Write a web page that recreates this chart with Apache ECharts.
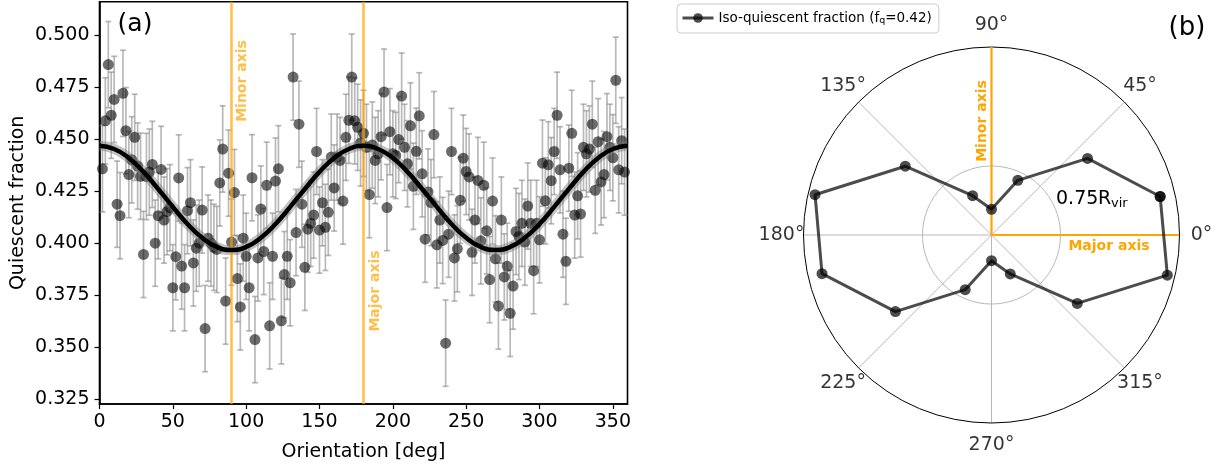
<!DOCTYPE html>
<html>
<head>
<meta charset="utf-8">
<script src="https://cdn.jsdelivr.net/npm/echarts@6/dist/echarts.min.js"></script>
<style>
  html, body { margin: 0; padding: 0; background: #fff; }
  #chart { width: 1216px; height: 467px; }
</style>
</head>
<body>
<div id="chart"></div>
<script>
// (a) quiescent fraction per 2 deg orientation bin
var orientDeg = [
  2, 4, 6, 8, 10, 12, 14, 16, 18, 20, 22, 24, 26, 28, 30, 32, 34, 36, 38, 40,
  42, 44, 46, 48, 50, 52, 54, 56, 58, 60, 62, 64, 66, 68, 70, 72, 74, 76, 78, 80,
  82, 84, 86, 88, 90, 92, 94, 96, 98, 100, 102, 104, 106, 108, 110, 112, 114, 116, 118, 120,
  122, 124, 126, 128, 130, 132, 134, 136, 138, 140, 142, 144, 146, 148, 150, 152, 154, 156, 158, 160,
  162, 164, 166, 168, 170, 172, 174, 176, 178, 180, 182, 184, 186, 188, 190, 192, 194, 196, 198, 200,
  202, 204, 206, 208, 210, 212, 214, 216, 218, 220, 222, 224, 226, 228, 230, 232, 234, 236, 238, 240,
  242, 244, 246, 248, 250, 252, 254, 256, 258, 260, 262, 264, 266, 268, 270, 272, 274, 276, 278, 280,
  282, 284, 286, 288, 290, 292, 294, 296, 298, 300, 302, 304, 306, 308, 310, 312, 314, 316, 318, 320,
  322, 324, 326, 328, 330, 332, 334, 336, 338, 340, 342, 344, 346, 348, 350, 352, 354, 356, 358
];
var quiescentFrac = [
  0.4357, 0.4587, 0.4857, 0.4614, 0.4690, 0.4187, 0.4132, 0.4719, 0.4540, 0.4329,
  0.4400, 0.4508, 0.4370, 0.4321, 0.3946, 0.4320, 0.4341, 0.4378, 0.4000, 0.4132,
  0.4354, 0.4111, 0.4151, 0.4170, 0.3786, 0.3935, 0.4313, 0.3890, 0.3786, 0.4156,
  0.4194, 0.3905, 0.3976, 0.4000, 0.4159, 0.3590, 0.4024, 0.4000, 0.3980, 0.3970,
  0.4289, 0.4452, 0.3722, 0.4336, 0.4005, 0.4243, 0.3830, 0.3694, 0.4024, 0.3937,
  0.3786, 0.4314, 0.3537, 0.3929, 0.4164, 0.3960, 0.4278, 0.3603, 0.3937, 0.4298,
  0.4357, 0.3627, 0.3849, 0.3937, 0.3810, 0.4797, 0.4051, 0.4571, 0.4187, 0.3884,
  0.4067, 0.4095, 0.4135, 0.4440, 0.4063, 0.4194, 0.4076, 0.4148, 0.4413, 0.4265,
  0.4413, 0.4397, 0.4202, 0.4508, 0.4590, 0.4797, 0.4587, 0.4556, 0.4481, 0.4527,
  0.4460, 0.4233, 0.4471, 0.4397, 0.4429, 0.4511, 0.4725, 0.4171, 0.4535, 0.4429,
  0.4421, 0.4497, 0.4706, 0.4460, 0.4381, 0.4563, 0.4273, 0.4441, 0.4611, 0.4333,
  0.4019, 0.4246, 0.4195, 0.4521, 0.3992, 0.4111, 0.4013, 0.3520, 0.4043, 0.4440,
  0.3929, 0.3973, 0.4206, 0.4408, 0.4344, 0.4318, 0.3956, 0.4111, 0.4301, 0.4011,
  0.4278, 0.4059, 0.3825, 0.4202, 0.3925, 0.3698, 0.4111, 0.3838, 0.3889, 0.3663,
  0.3794, 0.4056, 0.4032, 0.4095, 0.4005, 0.4178, 0.4095, 0.3868, 0.4095, 0.4016,
  0.4384, 0.4203, 0.4376, 0.4300, 0.4440, 0.4614, 0.4352, 0.4043, 0.3913, 0.4360,
  0.4527, 0.4135, 0.4227, 0.4140, 0.4460, 0.4429, 0.4452, 0.4571, 0.4254, 0.4487,
  0.4294, 0.4329, 0.4511, 0.4460, 0.4410, 0.4782, 0.4352, 0.4492, 0.4341
];
var fracErr = 0.0207;   // half length of the error bars

// fitted curve, read every 10 deg
var fitDeg = [0, 10, 20, 30, 40, 50, 60, 70, 80, 90, 100, 110, 120, 130, 140, 150, 160, 170, 180,
  190, 200, 210, 220, 230, 240, 250, 260, 270, 280, 290, 300, 310, 320, 330, 340, 350, 360];
var fitFrac = [0.4467, 0.4452, 0.4409, 0.4342, 0.4260, 0.4174, 0.4092, 0.4026, 0.3982, 0.3967,
  0.3982, 0.4026, 0.4092, 0.4174, 0.4260, 0.4342, 0.4409, 0.4452, 0.4467,
  0.4452, 0.4409, 0.4342, 0.4260, 0.4174, 0.4092, 0.4026, 0.3982, 0.3967,
  0.3982, 0.4026, 0.4092, 0.4174, 0.4260, 0.4342, 0.4409, 0.4452, 0.4467];

var xTicks = [0, 50, 100, 150, 200, 250, 300, 350];
var yTicks = [0.325, 0.350, 0.375, 0.400, 0.425, 0.450, 0.475, 0.500];
var axisMarks = [90, 180];   // minor, major axis

// (b) iso-quiescent contour, radius in R_vir
var polarAngle = [12.86, 38.57, 64.29, 90, 115.71, 141.43, 167.14, 192.86, 218.57, 244.29, 270, 295.71, 321.43, 347.14];
var polarRadius = [1.880, 1.335, 0.659, 0.279, 0.474, 1.199, 1.967, 1.889, 1.335, 0.659, 0.279, 0.470, 1.192, 1.960];
var angleTicks = [0, 45, 90, 135, 180, 225, 270, 315];
var radiusMax = 2.043;
var refRadius = 0.75;
var angleLabelRadius = 2.282;   // matplotlib puts the labels centred just outside the rim

var font = 'DejaVu Sans';
var orange = '#ffa500';
var orangeSoft = 'rgba(255,165,0,0.72)';

var chart = echarts.init(document.getElementById('chart'));

var pts = orientDeg.map(function (d, i) { return [d, quiescentFrac[i]]; });
var fitPts = fitDeg.map(function (d, i) { return [d, fitFrac[i]]; });
var loop = polarAngle.map(function (a, i) { return [polarRadius[i], a]; });
loop.push([polarRadius[0], polarAngle[0]]);

var option = {
  animation: false,
  textStyle: { fontFamily: font },
  grid: { left: 99.5, right: 588.5, top: 1.7, bottom: 59.7, show: true, borderColor: '#000', borderWidth: 1.6, backgroundColor: 'transparent' },
  xAxis: {
    type: 'value', min: 0, max: 360,
    name: 'Orientation [deg]', nameLocation: 'middle', nameGap: 39,
    nameTextStyle: { fontSize: 19, color: '#000', fontFamily: font },
    axisLine: { show: true, lineStyle: { color: '#000', width: 1.6 } },
    axisTick: { show: true, length: 5, customValues: xTicks, lineStyle: { color: '#000', width: 1.2 } },
    axisLabel: { customValues: xTicks, fontSize: 19, color: '#000', margin: 9, fontFamily: font },
    splitLine: { show: false }
  },
  yAxis: {
    type: 'value', min: 0.3228, max: 0.5159,
    name: 'Quiescent fraction', nameLocation: 'middle', nameGap: 72,
    nameTextStyle: { fontSize: 19, color: '#000', fontFamily: font },
    axisLine: { show: true, lineStyle: { color: '#000', width: 1.6 } },
    axisTick: { show: true, length: 5, customValues: yTicks, lineStyle: { color: '#000', width: 1.2 } },
    axisLabel: { customValues: yTicks, fontSize: 19, color: '#000', margin: 10, fontFamily: font,
      formatter: function (v) { return v.toFixed(3); } },
    splitLine: { show: false }
  },
  polar: { center: [991.5, 235], radius: 188 },
  angleAxis: {
    type: 'value', min: 0, max: 360, interval: 45, startAngle: 0, clockwise: false,
    axisLine: { show: true, lineStyle: { color: '#000', width: 1 } },
    axisTick: { show: false },
    axisLabel: { show: false },
    splitLine: { show: true, lineStyle: { color: '#b8b8b8', width: 1 } }
  },
  radiusAxis: {
    type: 'value', min: 0, max: radiusMax, interval: refRadius,
    axisLine: { show: false }, axisTick: { show: false }, axisLabel: { show: false },
    splitLine: { show: true, lineStyle: { color: ['transparent', '#b8b8b8', 'transparent', 'transparent'], width: 1 } }
  },
  legend: {
    left: 677, top: 4, padding: [7, 7, 7, 4], itemWidth: 31, itemHeight: 12, itemGap: 5,
    borderColor: '#cccccc', borderWidth: 1, borderRadius: 4,
    data: ['iso'],
    lineStyle: { width: 3 },
    formatter: function () { return 'Iso-quiescent fraction (f{q|q}=0.42)'; },
    textStyle: { fontSize: 13.5, color: '#000', fontFamily: font,
      rich: { q: { fontSize: 9.5, padding: [6, 0, 0, 0], fontFamily: font, color: '#000' } } }
  },
  series: [
    {
      name: 'err', type: 'custom', z: 1,
      data: pts,
      encode: { x: 0, y: 1 },
      renderItem: function (params, api) {
        var x = api.value(0), y = api.value(1);
        var top = api.coord([x, y + fracErr]);
        var bot = api.coord([x, y - fracErr]);
        var st = { stroke: 'rgba(128,128,128,0.55)', lineWidth: 1.7 };
        return {
          type: 'group',
          children: [
            { type: 'line', shape: { x1: top[0], y1: top[1], x2: bot[0], y2: bot[1] }, style: st },
            { type: 'line', shape: { x1: top[0] - 3, y1: top[1], x2: top[0] + 3, y2: top[1] }, style: st },
            { type: 'line', shape: { x1: bot[0] - 3, y1: bot[1], x2: bot[0] + 3, y2: bot[1] }, style: st }
          ]
        };
      }
    },
    {
      name: 'frac', type: 'scatter', z: 2,
      data: pts, symbolSize: 11,
      itemStyle: { color: 'rgba(0,0,0,0.72)' }
    },
    {
      name: 'band', type: 'line', z: 4,
      data: fitPts, smooth: true, symbol: 'none',
      lineStyle: { color: 'rgba(120,120,120,0.45)', width: 10 },
      markLine: {
        silent: true, symbol: 'none', label: { show: false },
        lineStyle: { color: orangeSoft, width: 2.5, type: 'solid' },
        data: axisMarks.map(function (v) { return { xAxis: v }; })
      }
    },
    {
      name: 'fit', type: 'line', z: 5,
      data: fitPts, smooth: true, symbol: 'none',
      lineStyle: { color: '#000', width: 4.5 }
    },
    {
      name: 'major', type: 'line', coordinateSystem: 'polar', z: 3,
      data: [[0, 0], [radiusMax, 0]], symbol: 'none',
      lineStyle: { color: orange, width: 2.2 }
    },
    {
      name: 'minor', type: 'line', coordinateSystem: 'polar', z: 3,
      data: [[0, 90], [radiusMax, 90]], symbol: 'none',
      lineStyle: { color: orange, width: 2.2 }
    },
    {
      name: 'iso', type: 'line', coordinateSystem: 'polar', z: 4,
      data: loop, symbol: 'circle', symbolSize: 11,
      lineStyle: { color: 'rgba(0,0,0,0.7)', width: 3 },
      itemStyle: { color: 'rgba(0,0,0,0.7)' }
    },
    {
      name: 'angleLabels', type: 'scatter', coordinateSystem: 'polar', z: 6,
      clip: false, silent: true, symbolSize: 0,
      itemStyle: { color: '#000' },
      data: angleTicks.map(function (a) { return [angleLabelRadius, a]; }),
      label: {
        show: true, position: 'inside', fontSize: 19, color: '#000', fontFamily: font,
        textBorderWidth: 0, textBorderColor: 'transparent',
        formatter: function (p) { return p.value[1] + '°'; }
      }
    }
  ],
  graphic: [
    { type: 'text', x: 135, y: 24, z: 10,
      style: { text: '(a)', font: '25px ' + font, fill: '#000', align: 'center', verticalAlign: 'middle' } },
    { type: 'text', x: 1187, y: 28, z: 10,
      style: { text: '(b)', font: '26px ' + font, fill: '#000', align: 'center', verticalAlign: 'middle' } },
    { type: 'text', x: 242, y: 81, rotation: Math.PI / 2, z: 10,
      style: { text: 'Minor axis', font: 'bold 14px ' + font, fill: orangeSoft, align: 'center', verticalAlign: 'middle' } },
    { type: 'text', x: 375, y: 291, rotation: Math.PI / 2, z: 10,
      style: { text: 'Major axis', font: 'bold 14px ' + font, fill: orangeSoft, align: 'center', verticalAlign: 'middle' } },
    { type: 'text', x: 982, y: 121, rotation: Math.PI / 2, z: 10,
      style: { text: 'Minor axis', font: 'bold 14px ' + font, fill: orange, align: 'center', verticalAlign: 'middle' } },
    { type: 'text', x: 1109, y: 246, z: 10,
      style: { text: 'Major axis', font: 'bold 14px ' + font, fill: orange, align: 'center', verticalAlign: 'middle' } },
    { type: 'text', x: 1056, y: 199, z: 10,
      style: { text: '0.75', font: '19px ' + font, fill: '#000', align: 'left', verticalAlign: 'middle' } },
    { type: 'text', x: 1098, y: 199, z: 10,
      style: { text: 'R', font: '19px ' + font, fill: '#000', align: 'left', verticalAlign: 'middle' } },
    { type: 'text', x: 1111, y: 204, z: 10,
      style: { text: 'vir', font: '13px ' + font, fill: '#000', align: 'left', verticalAlign: 'middle' } }
  ]
};

chart.setOption(option);
</script>
</body>
</html>
